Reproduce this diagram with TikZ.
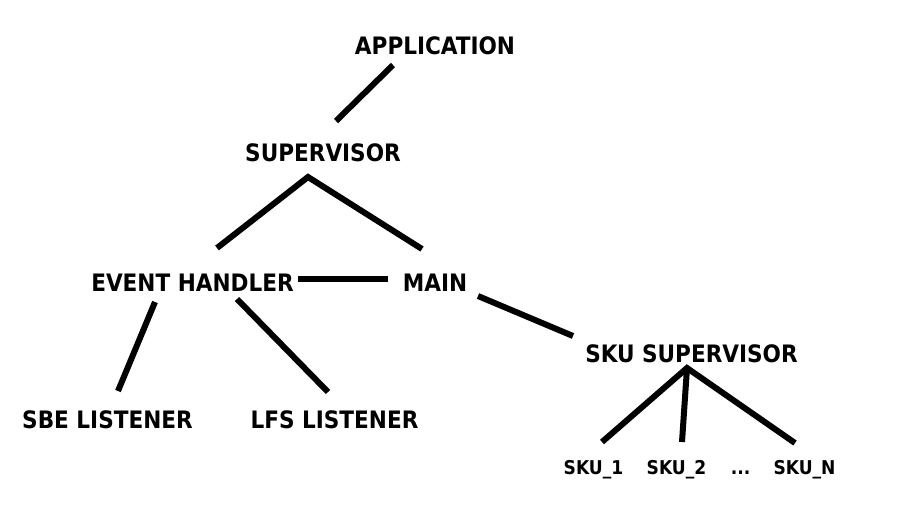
\documentclass[tikz,border=0pt]{standalone}
\usepackage{fontspec}
\setmainfont{DejaVu Sans Condensed}
\begin{document}
\begin{tikzpicture}[x=1pt,y=-1pt,
  lbl/.style={inner sep=0pt,anchor=base,font=\fontsize{24}{28}\selectfont\bfseries},
  small/.style={inner sep=0pt,anchor=base,font=\fontsize{19}{22}\selectfont\bfseries},
  edge/.style={line width=6pt,line cap=butt,line join=miter}]
\useasboundingbox (0,0) rectangle (898,515);
% nodes
\node[lbl] (app) at (435,54) {APPLICATION};
\node[lbl] (sup) at (323,161) {SUPERVISOR};
\node[lbl] (eh) at (192.5,291) {EVENT HANDLER};
\node[lbl] (main) at (435,291) {MAIN};
\node[lbl] (skusup) at (691.5,362) {SKU SUPERVISOR};
\node[lbl] (sbe) at (107.5,428.5) {SBE LISTENER};
\node[lbl] (lfs) at (334.5,428.5) {LFS LISTENER};
\node[small] (sku1) at (593.5,474) {SKU\_1};
\node[small] (sku2) at (676.5,474) {SKU\_2};
\node[small] (dots) at (740.5,474) {...};
\node[small] (skun) at (804.5,474) {SKU\_N};
% connector ends
\coordinate (appB) at (393,65);
\coordinate (supT) at (336,121);
\coordinate (supB) at (308,177);
\coordinate (ehT) at (217,248);
\coordinate (mainT) at (422,249);
\coordinate (ehR) at (298,279);
\coordinate (mainL) at (388,279);
\coordinate (mainB) at (478,296);
\coordinate (skusupT) at (573,336);
\coordinate (ehBL) at (155,302);
\coordinate (sbeT) at (118,391);
\coordinate (ehBR) at (237,299);
\coordinate (lfsT) at (328,392);
\coordinate (skusupB) at (687,368);
\coordinate (sku1T) at (602,442);
\coordinate (sku2T) at (682,442);
\coordinate (skunT) at (795,443);
% connectors
\draw[edge] (appB) -- (supT);
\draw[edge] (ehT) -- (supB) -- (mainT);
\draw[edge] (ehR) -- (mainL);
\draw[edge] (mainB) -- (skusupT);
\draw[edge] (ehBL) -- (sbeT);
\draw[edge] (ehBR) -- (lfsT);
\draw[edge] (sku1T) -- (skusupB) -- (skunT);
\draw[edge] (skusupB) -- (sku2T);
\end{tikzpicture}
\end{document}
